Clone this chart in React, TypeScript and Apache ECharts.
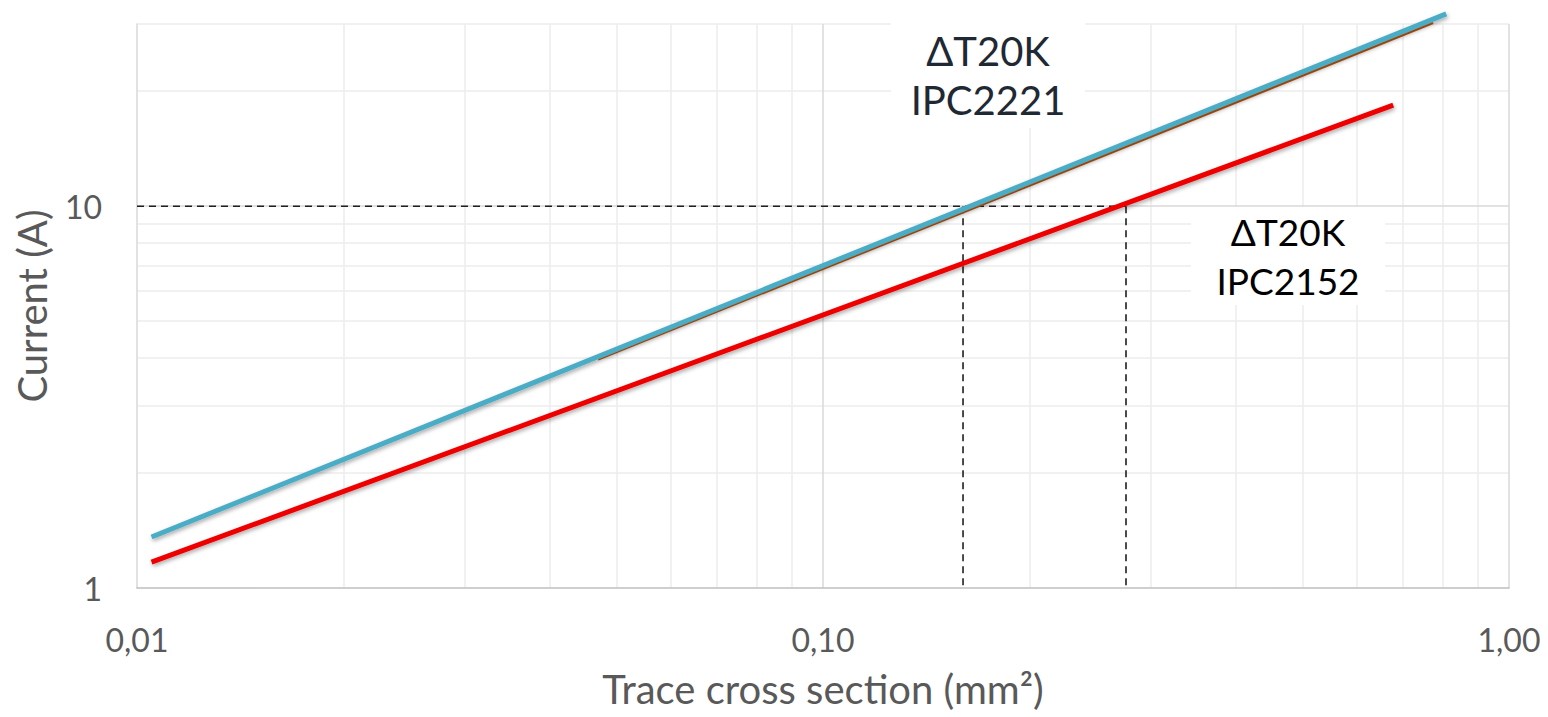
import React, { useEffect, useRef } from "react";
import * as echarts from "echarts";

// IPC2221 ΔT20K (blue, and the thin orange trace beneath it)
const ipc2221X = [0.0105, 0.81];
const ipc2221Y = [1.36, 31.9];
const ipc2221bX = [0.047, 0.775];
const ipc2221bY = [3.97, 30.2];
// IPC2152 ΔT20K (red)
const ipc2152X = [0.0105, 0.678];
const ipc2152Y = [1.169, 18.4];
// reference lines
const refCurrent = 10;
const refSections = [0.16, 0.2765];
const axisMinX = 0.01;
const axisMinY = 1;
// grid lines
const xMajor = [0.1, 1];
const xMinor = [0.02, 0.03, 0.04, 0.05, 0.06, 0.07, 0.08, 0.09, 0.2, 0.3, 0.4, 0.5, 0.6, 0.7, 0.8, 0.9];
const yMajor = [10];
const yMinor = [2, 3, 4, 5, 6, 7, 8, 9, 20, 30];
// annotation texts
const label2221 = ["ΔT20K", "IPC2221"];
const label2152 = ["ΔT20K", "IPC2152"];

const zip = (xs: number[], ys: number[]) => xs.map((x, i) => [x, ys[i]]);

export default function App() {
  const ref = useRef<HTMLDivElement>(null);
  useEffect(() => {
    if (!ref.current) return;
    const chart = echarts.init(ref.current, null, { renderer: "svg" });
    const shadow = {
      shadowColor: "rgba(0,0,0,0.35)",
      shadowBlur: 4,
      shadowOffsetX: 1,
      shadowOffsetY: 2,
    };
    const minorStyle = { color: "#EDEDED", width: 1.5, type: "solid" as const };
    const majorStyle = { color: "#D9D9D9", width: 1.5, type: "solid" as const };
    const dash = { color: "#1F1F1F", width: 1.6, type: [7, 5] as any };
    const labelFont = "Lato";
    const textEl = (t: string, x: number, y: number, size: number, family: string, fill: string) => ({
      type: "text",
      z: 11,
      x,
      y,
      style: {
        text: t,
        align: "center",
        verticalAlign: "middle",
        fontSize: size,
        lineHeight: 42,
        fontFamily: family,
        fill,
      },
    });
    chart.setOption({
      animation: false,
      grid: { left: 137, right: 39, top: 24, bottom: 129, containLabel: false },
      xAxis: {
        type: "log",
        logBase: 10,
        min: 0.01,
        max: 1,
        name: "Trace cross section (mm²)",
        nameLocation: "middle",
        nameGap: 81,
        nameTextStyle: { fontSize: 40, color: "#595959", fontFamily: labelFont },
        axisLine: { show: true, lineStyle: { color: "#BFBFBF", width: 1.5 } },
        axisTick: { show: false },
        splitLine: { show: false },
        axisLabel: {
          margin: 35,
          fontSize: 32,
          color: "#595959",
          fontFamily: labelFont,
          formatter: (v: number) => v.toFixed(2).replace(".", ","),
        },
      },
      yAxis: {
        type: "log",
        logBase: 10,
        min: 1,
        max: 30,
        name: "Current (A)",
        nameLocation: "middle",
        nameGap: 85,
        nameTextStyle: { fontSize: 40, color: "#595959", fontFamily: labelFont },
        axisLine: { show: true, lineStyle: { color: "#D9D9D9", width: 1.5 } },
        axisTick: { show: false },
        splitLine: { show: false },
        axisLabel: {
          margin: 35,
          fontSize: 32,
          color: "#595959",
          fontFamily: labelFont,
          formatter: (v: number) => {
            const l = Math.log10(v);
            return Math.abs(l - Math.round(l)) < 1e-6 ? String(Math.round(v)) : "";
          },
        },
      },
      series: [
        {
          type: "line",
          name: "grid",
          data: [],
          silent: true,
          z: 0,
          markLine: {
            silent: true,
            z: 0,
            symbol: "none",
            label: { show: false },
            animation: false,
            data: [
              ...xMinor.map((v) => ({ xAxis: v, lineStyle: minorStyle })),
              ...yMinor.map((v) => ({ yAxis: v, lineStyle: minorStyle })),
              ...xMajor.map((v) => ({ xAxis: v, lineStyle: majorStyle })),
              ...yMajor.map((v) => ({ yAxis: v, lineStyle: majorStyle })),
            ],
          },
        },
        {
          type: "line",
          name: "ref-h",
          data: [
            [axisMinX, refCurrent],
            [refSections[1], refCurrent],
          ],
          symbol: "none",
          lineStyle: dash,
          z: 3,
          silent: true,
        },
        ...refSections.map((s) => ({
          type: "line",
          name: "ref-v",
          data: [
            [s, refCurrent],
            [s, axisMinY],
          ],
          symbol: "none",
          lineStyle: dash,
          z: 3,
          silent: true,
        })),
        {
          type: "line",
          name: "IPC2152",
          data: zip(ipc2152X, ipc2152Y),
          symbol: "none",
          clip: false,
          lineStyle: { color: "#EE0000", width: 5, cap: "butt", ...shadow },
          z: 4,
        },
        {
          type: "line",
          name: "IPC2221 b",
          data: zip(ipc2221bX, ipc2221bY),
          symbol: "none",
          clip: false,
          lineStyle: { color: "#C55A11", width: 2.5, cap: "butt" },
          z: 4,
        },
        {
          type: "line",
          name: "IPC2221",
          data: zip(ipc2221X, ipc2221Y),
          symbol: "none",
          clip: false,
          lineStyle: { color: "#4BACC6", width: 5, cap: "butt", ...shadow },
          z: 5,
        },
      ],
      graphic: [
        {
          type: "rect",
          z: 10,
          shape: { x: 891, y: 18, width: 194, height: 110 },
          style: { fill: "#FFFFFF" },
        },
        textEl(label2221[0], 988, 51, 40, "Lato", "#1F2933"),
        textEl(label2221[1], 988, 100, 40, "Lato", "#1F2933"),
        {
          type: "rect",
          z: 10,
          shape: { x: 1191, y: 207, width: 194, height: 98 },
          style: { fill: "#FFFFFF" },
        },
        textEl(label2152[0], 1288, 231, 37, "Lato", "#000000"),
        textEl(label2152[1], 1288, 280, 37, "Lato", "#000000"),
      ],
    });
    return () => chart.dispose();
  }, []);
  return (
    <div
      ref={ref}
      style={{ position: "fixed", left: 0, top: 0, width: 1548, height: 717, background: "#FFFFFF" }}
    />
  );
}
